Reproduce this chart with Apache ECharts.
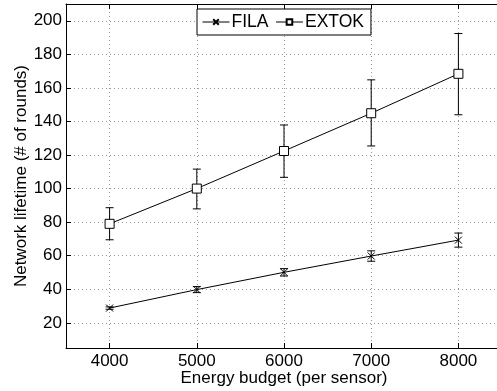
<!DOCTYPE html>
<html><head><meta charset="utf-8">
<script src="https://cdn.jsdelivr.net/npm/echarts@6/dist/echarts.min.js"></script>
<style>html,body{margin:0;padding:0;background:#fff}#c{width:497px;height:391px}</style>
</head><body><div id="c"></div>
<script>
const budgets = [4000, 5000, 6000, 7000, 8000];
const xTicks = [4000, 5000, 6000, 7000, 8000];
const yTicks = [20, 40, 60, 80, 100, 120, 140, 160, 180, 200];
const filaMean = [28.8, 39.8, 50.1, 59.8, 69.3];
const filaLow = [28.1, 38.0, 47.9, 56.7, 65.1];
const filaHigh = [29.5, 41.6, 52.3, 62.9, 73.5];
const extokMean = [79, 100, 122.4, 144.9, 168.4];
const extokLow = [69.5, 87.9, 106.7, 125.4, 144.0];
const extokHigh = [88.6, 111.6, 137.9, 164.8, 192.4];

const FONT = '"Liberation Sans", Arial, sans-serif';
const crossPath = 'path://M0,0L10,10M10,0L0,10';

function errData(lo, hi) { return budgets.map((b, i) => [b, lo[i], hi[i]]); }
function errRender(params, api) {
  const x = api.value(0), lo = api.value(1), hi = api.value(2);
  const a = api.coord([x, lo]), b = api.coord([x, hi]);
  const w = 4;
  const st = { stroke: '#000', lineWidth: 1, fill: null };
  return { type: 'group', children: [
    { type: 'line', shape: { x1: a[0], y1: a[1], x2: b[0], y2: b[1] }, style: st },
    { type: 'line', shape: { x1: a[0]-w, y1: a[1], x2: a[0]+w, y2: a[1] }, style: st },
    { type: 'line', shape: { x1: b[0]-w, y1: b[1], x2: b[0]+w, y2: b[1] }, style: st }
  ]};
}

const chart = echarts.init(document.getElementById('c'), null, { renderer: 'canvas' });
const gridLine = { show: true, lineStyle: { color: '#999', type: [1, 3], width: 1 } };
chart.setOption({
  animation: false,
  backgroundColor: '#fff',
  textStyle: { fontFamily: FONT },
  grid: { left: 66, right: -5, top: 4, bottom: 43, containLabel: false, outerBoundsMode: 'none' },
  legend: {
    left: 197, top: 9,
    backgroundColor: '#fff',
    borderColor: '#000', borderWidth: 1,
    padding: [4, 7, 4, 5],
    itemWidth: 27, itemHeight: 7, itemGap: 7,
    lineStyle: { width: 1 },
    textStyle: { fontFamily: FONT, fontSize: 17.5, color: '#000', padding: [0, 0, 0, -3] },
    data: ['FILA', 'EXTOK']
  },
  xAxis: [{
    type: 'value', min: 3500, max: 8500,
    name: 'Energy budget (per sensor)', nameLocation: 'middle', nameGap: 22, nameMoveOverlap: false,
    nameTextStyle: { fontFamily: FONT, fontSize: 17, color: '#000', verticalAlign: 'top' },
    axisLine: { lineStyle: { color: '#000', width: 1 } },
    axisTick: { inside: true, length: 5, customValues: xTicks, lineStyle: { color: '#000' } },
    axisLabel: { customValues: xTicks, formatter: v => String(v), fontFamily: FONT, fontSize: 17, color: '#000', margin: 5 },
    splitLine: gridLine
  }, {
    type: 'value', min: 3500, max: 8500, position: 'top',
    axisLine: { lineStyle: { color: '#000', width: 1 } },
    axisTick: { inside: true, length: 5, customValues: xTicks, lineStyle: { color: '#000' } },
    axisLabel: { show: false }, splitLine: { show: false }
  }],
  yAxis: {
    type: 'value', min: 5, max: 210,
    name: 'Network lifetime (# of rounds)', nameLocation: 'middle', nameGap: 36, nameMoveOverlap: false,
    nameTextStyle: { fontFamily: FONT, fontSize: 17, color: '#000' },
    axisLine: { show: true, lineStyle: { color: '#000', width: 1 } },
    axisTick: { show: true, inside: true, length: 5, customValues: yTicks, lineStyle: { color: '#000' } },
    axisLabel: { customValues: yTicks, fontFamily: FONT, fontSize: 17, color: '#000', margin: 4 },
    splitLine: gridLine
  },
  series: [
    {
      name: 'FILA', type: 'line', data: budgets.map((b, i) => [b, filaMean[i]]),
      symbol: crossPath, symbolSize: 7,
      lineStyle: { color: '#000', width: 1 },
      itemStyle: { color: 'none', borderColor: '#000', borderWidth: 1 },
      z: 3
    },
    {
      name: 'EXTOK', type: 'line', data: budgets.map((b, i) => [b, extokMean[i]]),
      symbol: 'rect', symbolSize: 9,
      lineStyle: { color: '#000', width: 1 },
      itemStyle: { color: '#fff', borderColor: '#000', borderWidth: 1 },
      z: 3
    },
    { type: 'custom', data: errData(filaLow, filaHigh), renderItem: errRender, z: 2, silent: true },
    { type: 'custom', data: errData(extokLow, extokHigh), renderItem: errRender, z: 2, silent: true }
  ]
});
</script></body></html>
